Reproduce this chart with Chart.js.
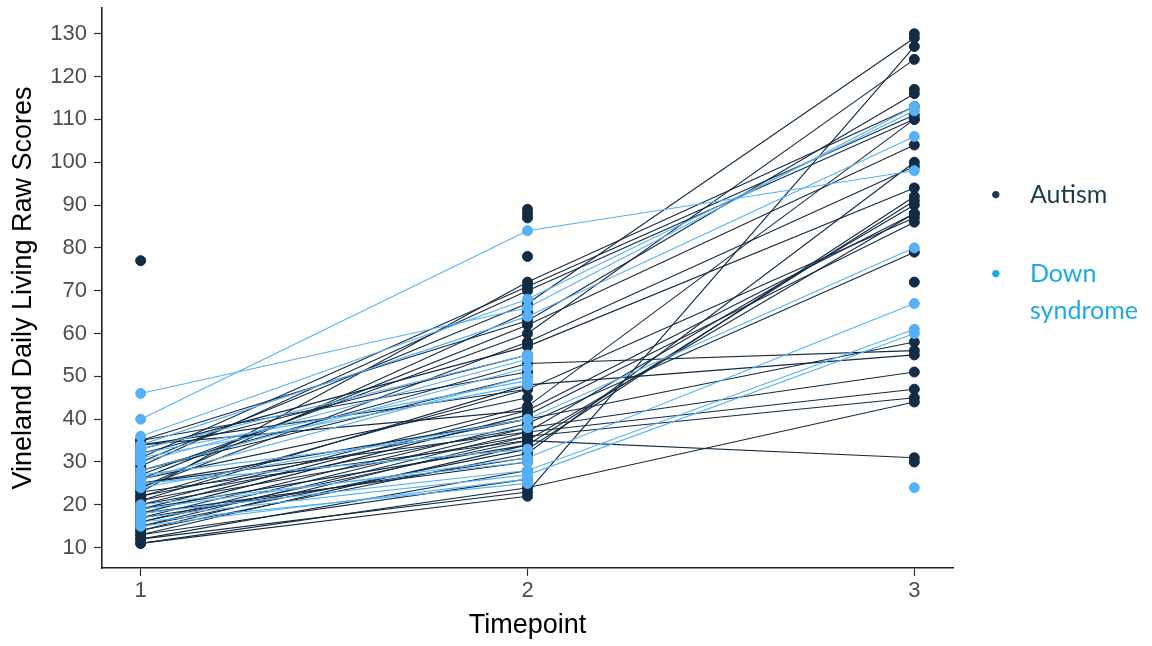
<!DOCTYPE html>
<html>
<head>
<meta charset="utf-8">
<script src="https://cdn.jsdelivr.net/npm/chart.js@4/dist/chart.umd.min.js"></script>
<style>
  html, body { margin: 0; padding: 0; background: #ffffff; }
  #wrap { position: relative; width: 1152px; height: 646px; }
  #c { position: absolute; left: 0; top: 0; }
  .leg { position: absolute; font-family: Lato, "Open Sans", sans-serif; font-size: 25px; line-height: 37px; }
  .leg .b { position: absolute; left: -40px; top: 0; font-size: 20px; }
</style>
</head>
<body>
<div id="wrap">
  <canvas id="c" width="1152" height="646"></canvas>
  <div class="leg" style="left:1030px; top:175px; color:#1d3a4c;"><span class="b">•</span>Autism</div>
  <div class="leg" style="left:1030px; top:254px; color:#1ea9e6;"><span class="b">•</span>Down<br>syndrome</div>
</div>
<script>
// Timepoints
const timepoints = [1, 2, 3];
const yTicks = [10, 20, 30, 40, 50, 60, 70, 80, 90, 100, 110, 120, 130];

// Autism subjects (index-aligned, null = missing)
const autismT1 = [30, 27, 12, null, 23, 31, 29, 35, 26, 24, 33, 20, 22, 19, 18, 17, 28, 21, 16, 15, 14, 16, 11, 13, 15, 14, null, null, null, null, 77, null, null, 22, 34, 35, 32, 34, 20, 18, 12, 13, 11, 19, 21, 25, 28, 26, 24, 17, 25, 23, null];
const autismT2 = [67, 60, 23, null, 72, 71, 70, 63, 62, 58, 57, 43, 47, 42, 41, 39, 53, 48, 38, 37, 36, 35, 24, 34, 33, 32, 89, 88, 87, 78, null, null, null, 40, 42, 51, 55, 47, 36, 30, 28, 26, 22, 34, 38, 40, 50, 45, 65, 31, 37, 35, null];
const autismT3 = [129, 124, 127, 130, 113, 111, 110, 116, 104, 99, 94, 110, 87, 88, 86, 79, 56, 55, 51, 47, 45, 31, 44, 91, 92, 100, null, null, null, null, null, 30, 72, 58, null, null, null, null, null, null, null, null, null, null, null, null, null, null, null, null, 90, 88, 117];

// Down syndrome subjects
const dsT1 = [46, 40, 36, 34, 30, 26, 32, 24, 19, 18, 17, 16, null, 20, 28, 15, 31, 27, 33, 25];
const dsT2 = [66, 84, 68, 64, 54, 50, 49, 40, 31, 28, 27, 25, null, 30, 52, 26, 48, 38, 55, 33];
const dsT3 = [113, 98, 112, 106, null, null, null, 80, 67, 61, 60, null, 24, null, null, null, null, null, null, null];

const AUT = '#132B43';
const DS = '#56B1F7';

function subjectPoints(t1, t2, t3, i) {
  return [t1[i], t2[i], t3[i]]
    .map((v, k) => ({ x: timepoints[k], y: v }))
    .filter(p => p.y !== null);
}

const datasets = [];
// lines (drawn beneath points)
for (let i = 0; i < autismT1.length; i++) {
  datasets.push({ type: 'line', data: subjectPoints(autismT1, autismT2, autismT3, i),
    borderColor: AUT, borderWidth: 1.1, pointRadius: 0, fill: false, order: 3 });
}
for (let i = 0; i < dsT1.length; i++) {
  datasets.push({ type: 'line', data: subjectPoints(dsT1, dsT2, dsT3, i),
    borderColor: DS, borderWidth: 1.1, pointRadius: 0, fill: false, order: 2 });
}
// points
const autPts = [], dsPts = [];
for (let i = 0; i < autismT1.length; i++) autPts.push(...subjectPoints(autismT1, autismT2, autismT3, i));
for (let i = 0; i < dsT1.length; i++) dsPts.push(...subjectPoints(dsT1, dsT2, dsT3, i));
datasets.push({ type: 'scatter', data: autPts, backgroundColor: AUT, borderColor: AUT,
  borderWidth: 1, pointRadius: 5, showLine: false, order: 1 });
datasets.push({ type: 'scatter', data: dsPts, backgroundColor: DS, borderColor: DS,
  borderWidth: 1, pointRadius: 5, showLine: false, order: 0 });

new Chart(document.getElementById('c'), {
  type: 'scatter',
  data: { datasets },
  options: {
    responsive: false,
    animation: false,
    devicePixelRatio: 1,
    layout: { padding: { top: 8, right: 199, left: 0, bottom: 0 } },
    plugins: { legend: { display: false }, tooltip: { enabled: false } },
    scales: {
      x: {
        type: 'linear', min: 0.9, max: 3.1,
        afterBuildTicks: s => { s.ticks = timepoints.map(v => ({ value: v })); },
        afterFit: s => { s.height = 78; s.paddingLeft = 0; s.paddingRight = 0; },
        ticks: { font: { family: 'Liberation Sans, Arial, sans-serif', size: 22 }, color: '#4D4D4D', padding: 2, maxRotation: 0 },
        grid: { drawOnChartArea: false, drawTicks: true, tickLength: 8, color: '#333333', tickWidth: 1.2 },
        border: { display: true, color: '#222222', width: 1.6 },
        title: { display: true, text: 'Timepoint', color: '#000000',
          font: { family: 'Liberation Sans, Arial, sans-serif', size: 27 }, padding: { top: 0, bottom: 4 } }
      },
      y: {
        type: 'linear', min: 5.25, max: 136,
        afterBuildTicks: s => { s.ticks = yTicks.map(v => ({ value: v })); },
        afterFit: s => { s.width = 102; s.paddingTop = 0; s.paddingBottom = 0; },
        ticks: { font: { family: 'Liberation Sans, Arial, sans-serif', size: 22 }, color: '#4D4D4D', padding: 7 },
        grid: { drawOnChartArea: false, drawTicks: true, tickLength: 8, color: '#333333', tickWidth: 1.2 },
        border: { display: true, color: '#222222', width: 1.6 },
        title: { display: true, text: 'Vineland Daily Living Raw Scores', color: '#000000',
          font: { family: 'Liberation Sans, Arial, sans-serif', size: 27 }, padding: { top: 7, bottom: 0 } }
      }
    }
  }
});
</script>
</body>
</html>
